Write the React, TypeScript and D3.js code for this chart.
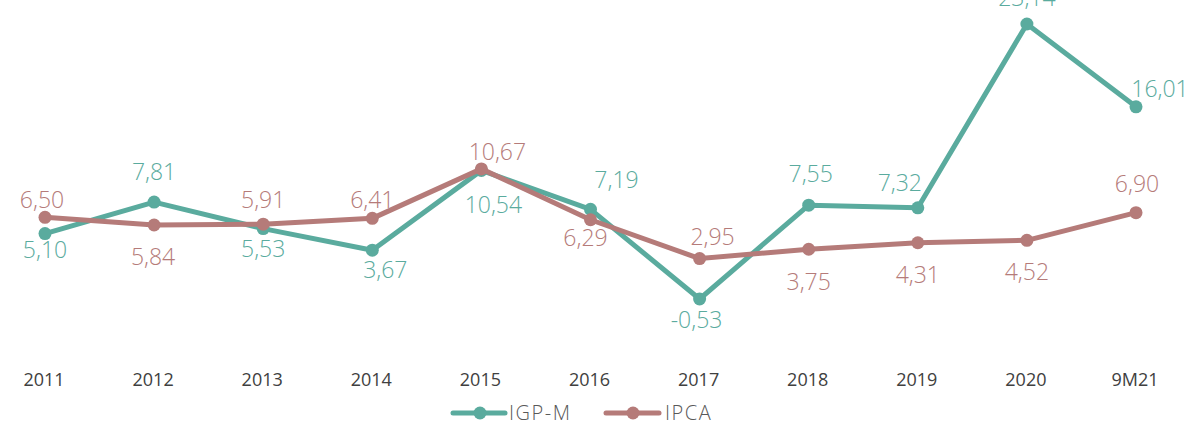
import React from "react";
import * as d3 from "d3";

const categories = ["2011", "2012", "2013", "2014", "2015", "2016", "2017", "2018", "2019", "2020", "9M21"];
const igpm = [5.10, 7.81, 5.53, 3.67, 10.54, 7.19, -0.53, 7.55, 7.32, 23.14, 16.01];
const ipca = [6.50, 5.84, 5.91, 6.41, 10.67, 6.29, 2.95, 3.75, 4.31, 4.52, 6.90];

// label placement (offset of label centre from its point, px)
const igpmLabelDx = [0, 0, 0, 13, 12, 26, -3, 2, -18, 0, 24];
const igpmLabelDy = [16, -30, 20, 20, 35, -29, 21, -31, -25, -26, -18];
const ipcaLabelDx = [-3, -1, 0, 0, 16, -5, 13, 0, 0, 0, 1];
const ipcaLabelDy = [-17, 32, -24, -18, -17, 18, -22, 33, 32, 32, -29];

const W = 1196;
const H = 426;
const TEAL = "#5aab9e";
const ROSE = "#b57b79";
const FONT = "'Open Sans', Lato, sans-serif";

export default function App() {
  const x = d3.scalePoint<string>().domain(categories).range([45, 1136]);
  const y = d3.scaleLinear().domain([-0.53, 23.14]).range([299, 24]);
  const fmt = (v: number) => v.toFixed(2).replace(".", ",");

  const series = [
    { name: "IGP-M", values: igpm, color: TEAL, dx: igpmLabelDx, dy: igpmLabelDy },
    { name: "IPCA", values: ipca, color: ROSE, dx: ipcaLabelDx, dy: ipcaLabelDy },
  ];
  const line = d3
    .line<number>()
    .x((_, i) => x(categories[i]) as number)
    .y((d) => y(d));

  return (
    <svg width={W} height={H} style={{ position: "absolute", left: 0, top: 0, background: "#fff" }} fontFamily={FONT}>
      {series.map((s) => (
        <g key={s.name}>
          <path d={line(s.values) || ""} fill="none" stroke={s.color} strokeWidth={5} strokeLinejoin="round" />
          {s.values.map((v, i) => (
            <circle key={i} cx={x(categories[i])} cy={y(v)} r={6.5} fill={s.color} />
          ))}
        </g>
      ))}
      {series.map((s) =>
        s.values.map((v, i) => (
          <text
            key={s.name + i}
            x={(x(categories[i]) as number) + s.dx[i]}
            y={y(v) + s.dy[i] + 8}
            textAnchor="middle"
            fontSize={23}
            fontWeight={300}
            fill={s.color}
          >
            {fmt(v)}
          </text>
        ))
      )}
      {categories.map((c) => (
        <text key={c} x={(x(c) as number) - 1} y={386} textAnchor="middle" fontSize={18} fill="#404040">
          {c}
        </text>
      ))}
      <g>
        <line x1={453} x2={505} y1={413} y2={413} stroke={TEAL} strokeWidth={5} strokeLinecap="round" />
        <circle cx={480} cy={413} r={6.5} fill={TEAL} />
        <text x={509} y={420} fontSize={20} fontWeight={300} letterSpacing={1.5} fill="#595959">IGP-M</text>
        <line x1={606} x2={659} y1={413} y2={413} stroke={ROSE} strokeWidth={5} strokeLinecap="round" />
        <circle cx={633} cy={413} r={6.5} fill={ROSE} />
        <text x={665} y={420} fontSize={20} fontWeight={300} letterSpacing={1.5} fill="#595959">IPCA</text>
      </g>
    </svg>
  );
}
